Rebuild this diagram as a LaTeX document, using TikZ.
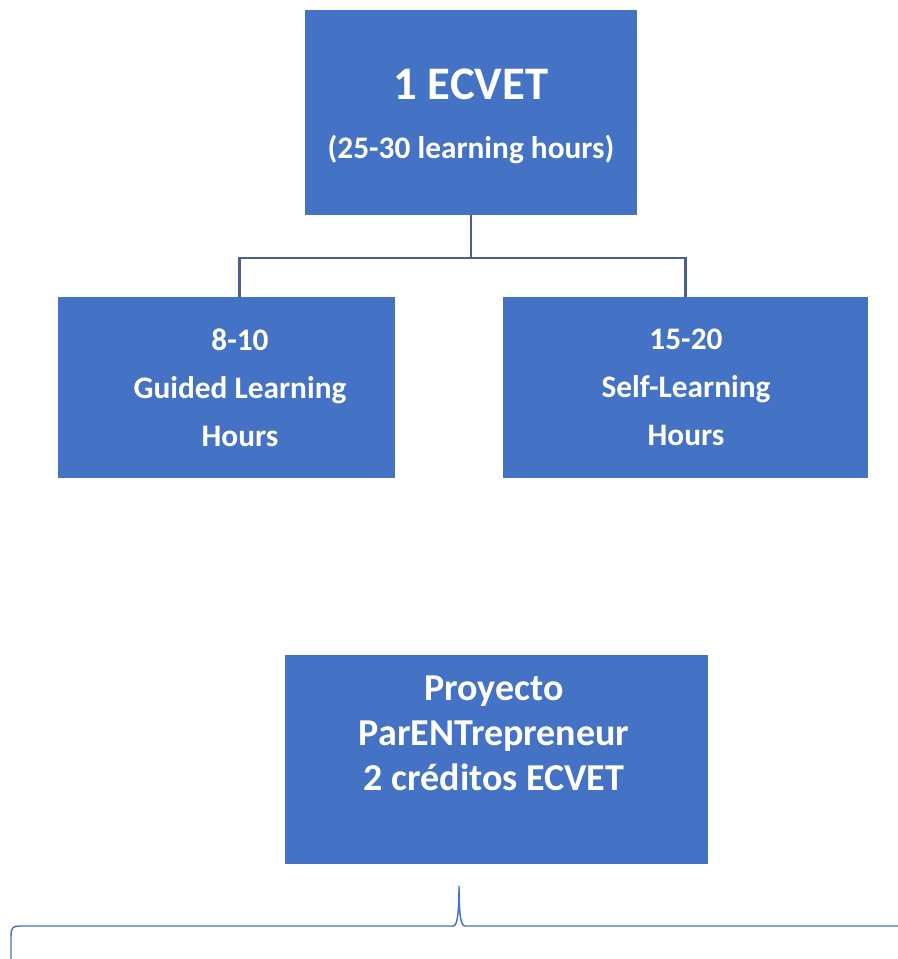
\documentclass[tikz,border=0pt]{standalone}
\usepackage{fontspec}
\setmainfont{Carlito}
\usetikzlibrary{positioning,calc}
\definecolor{boxblue}{HTML}{4472C4}
\definecolor{linkgrey}{HTML}{4A5F8E}
\tikzset{
  bluebox/.style={fill=boxblue, draw=none, inner sep=0pt},
  boxtext/.style={text=white, font=\bfseries, align=center},
  link/.style={draw=linkgrey, line width=2.2pt},
  bracket/.style={draw=boxblue, line width=1.1pt, line cap=round, line join=round}
}
\begin{document}
\begin{tikzpicture}[x=0.75pt, y=-0.75pt]
\useasboundingbox (0,0) rectangle (898,959);

% boxes
\node[bluebox, minimum width=249pt, minimum height=153.75pt] (ecvet) at (471,112.5) {};
\node[bluebox, minimum width=252.75pt, minimum height=135.75pt] (guided) at (226.5,387.5) {};
\node[bluebox, minimum width=273.75pt, minimum height=135.75pt] (self) at (685.5,387.5) {};
\node[bluebox, minimum width=317.25pt, minimum height=156.75pt] (proyecto) at (496.5,759.5) {};

% texts
\node[boxtext, font=\bfseries\fontsize{35}{40}\selectfont] (ecvettitle) at (471,84) {1 ECVET};
\node[boxtext, font=\bfseries\fontsize{23.5}{28}\selectfont] (ecvethours) at (471,150) {(25-30 learning hours)};
\node[boxtext, font=\bfseries\fontsize{23.5}{36}\selectfont] (guidedtext) at (240,387.5) {8-10\\Guided Learning\\Hours};
\node[boxtext, font=\bfseries\fontsize{23.5}{36}\selectfont] (selftext) at (686,387.5) {15-20\\Self-Learning\\Hours};
\node[boxtext, font=\bfseries\fontsize{28.5}{33.75}\selectfont] (proyectotext) at (494,733) {Proyecto\\ParENTrepreneur\\2 créditos ECVET};

% connectors
\coordinate (bar) at (471,258);
\draw[link] ([xshift=10pt]guided.north) |- (bar) -| (self.north);
\draw[link] (ecvet.south) -- (bar);

% brace
\coordinate (tip) at (459,886);
\draw[bracket] (11,959) -- (11,936) .. controls (11,928) and (13,926) .. (19,926)
  -- (453,926) .. controls (457,926) and (459,916) .. (tip)
  .. controls (459,916) and (461,926) .. (465,926) -- (898,926);
\end{tikzpicture}
\end{document}
